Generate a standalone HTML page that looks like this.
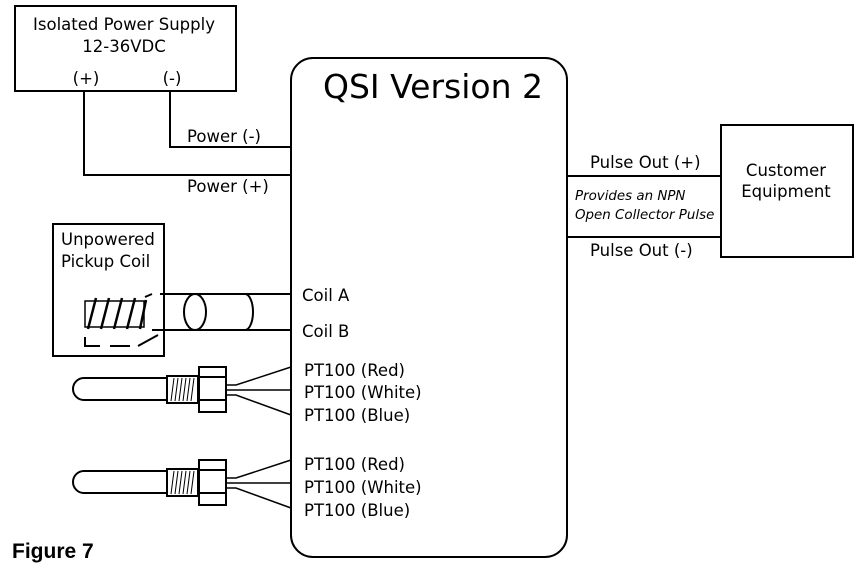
<!DOCTYPE html>
<html><head><style>
body{margin:0;background:#fff;}
svg{display:block;font-family:"DejaVu Sans","Liberation Sans",sans-serif;}
</style></head><body>
<svg width="861" height="569" viewBox="0 0 861 569" xmlns="http://www.w3.org/2000/svg">
<g fill="none" stroke="#000" stroke-width="2">
<rect x="15" y="6" width="221" height="85"/>
<path d="M84 91V175H291M170 91V147H291"/>
<rect x="291" y="58" width="276" height="499" rx="22"/>
<rect x="721" y="125" width="132" height="132"/>
<path d="M567 176H721M567 237H721"/>
<rect x="53" y="224" width="111" height="132"/>
<rect x="85" y="301" width="59" height="26" stroke-width="1.5"/>
<path d="M88 329L96 298M101 329L109 298M114 329L122 298M127 329L135 298M140 329L146 300" stroke-width="2.5"/>
<path d="M85 337V346H100M110 346H130M138 346L158 335M145 297L152 294M160 294H291M152 330H291"/>
<ellipse cx="195" cy="312" rx="11" ry="18"/>
<path d="M195 294H245A8 18 0 0 1 245 330H195"/>
<g id="s">
<path d="M167 378H84A11 11 0 0 0 84 400H167"/>
<rect x="167" y="376" width="31" height="27"/>
<path d="M171 401L174 378M175 401L178 378M179 401L182 378M183 401L186 378M187 401L190 378M191 401L194 378" stroke-width="1"/>
<rect x="199" y="367" width="27" height="45"/>
<path d="M199 377H226M199 400H226"/>
<path d="M226 385H236L291 367M226 390H291M226 395H236L291 415" stroke-width="1.5"/>
</g>
<use href="#s" y="93"/>
</g>
<g font-size="16.5" fill="#000">
<text x="124" y="30" text-anchor="middle">Isolated Power Supply</text>
<text x="124" y="52" text-anchor="middle">12-36VDC</text>
<text x="86" y="84" text-anchor="middle">(+)</text>
<text x="172" y="84" text-anchor="middle">(-)</text>
<text x="187" y="142">Power (-)</text>
<text x="187" y="192">Power (+)</text>
<text x="433" y="98" text-anchor="middle" font-size="33">QSI Version 2</text>
<text x="590" y="168">Pulse Out (+)</text>
<text x="590" y="256">Pulse Out (-)</text>
<text x="575" y="200" font-size="13.4" font-style="italic">Provides an NPN</text>
<text x="575" y="219" font-size="13.4" font-style="italic">Open Collector Pulse</text>
<text x="786" y="176" text-anchor="middle">Customer</text>
<text x="786" y="197" text-anchor="middle">Equipment</text>
<text x="61" y="245">Unpowered</text>
<text x="61" y="267">Pickup Coil</text>
<text x="302" y="301">Coil A</text>
<text x="302" y="337">Coil B</text>
<text x="304" y="376">PT100 (Red)</text>
<text x="304" y="398">PT100 (White)</text>
<text x="304" y="421">PT100 (Blue)</text>
<text x="304" y="470">PT100 (Red)</text>
<text x="304" y="493">PT100 (White)</text>
<text x="304" y="516">PT100 (Blue)</text>
<text x="12" y="558" font-family="Liberation Sans" font-weight="bold" font-size="21">Figure 7</text>
</g>
</svg>
</body></html>
